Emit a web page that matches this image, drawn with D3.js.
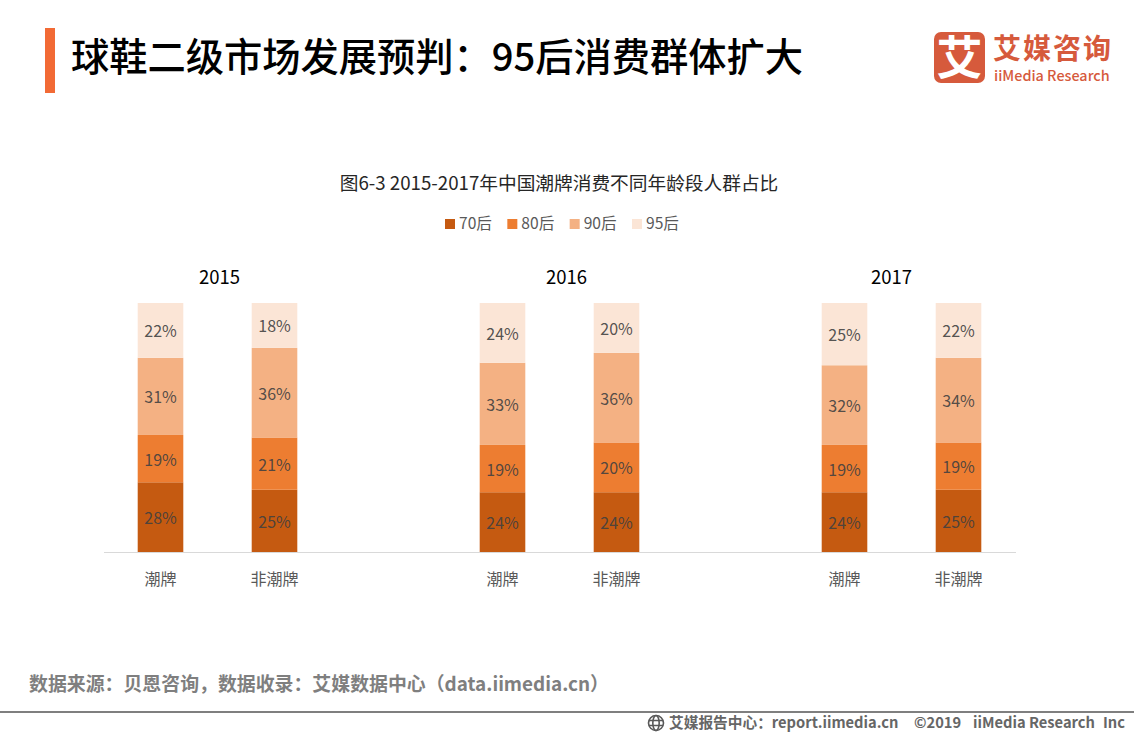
<!DOCTYPE html>
<html>
<head>
<meta charset="utf-8">
<script src="https://cdn.jsdelivr.net/npm/d3@7"></script>
<style>
  html, body { margin: 0; padding: 0; background: #fff; }
  svg { display: block; }
  text { font-family: "Noto Sans CJK SC", "Noto Sans", sans-serif; }
</style>
</head>
<body>
<div id="chart"></div>
<script>
const years = ["2015", "2016", "2017"];
const brands = ["潮牌", "非潮牌"];
const ages = ["70后", "80后", "90后", "95后"];

// share per bar, order: 2015 潮牌, 2015 非潮牌, 2016 潮牌 ...
const age70 = [28, 25, 24, 24, 24, 25];
const age80 = [19, 21, 19, 20, 19, 19];
const age90 = [31, 36, 33, 36, 32, 34];
const age95 = [22, 18, 24, 20, 25, 22];

const colors = ["#c55a11", "#ed7d31", "#f4b183", "#fbe5d6"];

const width = 1134, height = 737;
const svg = d3.select("#chart").append("svg")
  .attr("width", width).attr("height", height);

// header
svg.append("rect").attr("x", 45).attr("y", 28).attr("width", 10).attr("height", 65).attr("fill", "#f26a35");
svg.append("text").attr("x", 71).attr("y", 71)
  .attr("font-size", 38.25).attr("font-weight", 500).attr("fill", "#000")
  .text("球鞋二级市场发展预判：95后消费群体扩大");

// logo
svg.append("rect").attr("x", 934).attr("y", 32).attr("width", 51).attr("height", 51).attr("rx", 7).attr("fill", "#d65a3c");
svg.append("text").attr("x", 959.5).attr("y", 74).attr("text-anchor", "middle")
  .attr("font-size", 46).attr("font-weight", 700).attr("fill", "#fff").text("艾");
svg.append("text").attr("x", 993).attr("y", 59)
  .attr("font-size", 28).attr("letter-spacing", 2).attr("font-weight", 700).attr("fill", "#d65a3c").text("艾媒咨询");
svg.append("text").attr("x", 994).attr("y", 81)
  .attr("font-size", 14.4).attr("font-weight", 500).attr("fill", "#d65a3c").text("iiMedia Research");

// chart title
svg.append("text").attr("x", 559).attr("y", 190).attr("text-anchor", "middle")
  .attr("font-size", 18.7).attr("fill", "#262626")
  .text("图6-3 2015-2017年中国潮牌消费不同年龄段人群占比");

// legend
const legendX = d3.scalePoint().domain(ages).range([445, 632]);
const legend = svg.append("g").selectAll("g").data(ages).join("g")
  .attr("transform", d => `translate(${legendX(d)},219)`);
legend.append("rect").attr("width", 10).attr("height", 10).attr("fill", (d, i) => colors[i]);
legend.append("text").attr("x", 14).attr("y", 10)
  .attr("font-size", 15.6).attr("fill", "#595959").text(d => d);

// bars: 8 equal slots, the third of each year group stays empty
const bars = years.flatMap(y => brands.map(b => ({ year: y, brand: b, key: y + b })));
bars.forEach((b, i) => {
  b["70后"] = age70[i]; b["80后"] = age80[i]; b["90后"] = age90[i]; b["95后"] = age95[i];
});
const slots = years.flatMap((y, i) => {
  const keys = brands.map(b => y + b);
  return i < years.length - 1 ? keys.concat("gap" + y) : keys;
});

const x = d3.scaleBand().domain(slots).range([103.5, 1015.5]).paddingInner(0.6).paddingOuter(0.3);
const yScale = d3.scaleLinear().domain([0, 100]).range([552, 303]);
const stacked = d3.stack().keys(ages)(bars);

const layers = svg.append("g").selectAll("g").data(stacked).join("g")
  .attr("fill", (d, i) => colors[i]);
layers.selectAll("rect").data(d => d).join("rect")
  .attr("x", d => x(d.data.key))
  .attr("width", x.bandwidth())
  .attr("y", d => yScale(d[1]))
  .attr("height", d => yScale(d[0]) - yScale(d[1]));

const labels = svg.append("g").selectAll("g").data(stacked).join("g");
labels.selectAll("text").data(d => d.map(v => ({ v, key: d.key }))).join("text")
  .attr("x", d => x(d.v.data.key) + x.bandwidth() / 2)
  .attr("y", d => yScale((d.v[0] + d.v[1]) / 2) + 7)
  .attr("text-anchor", "middle")
  .attr("font-size", 16)
  .attr("fill", "#404040")
  .attr("fill-opacity", 0.9)
  .text(d => d.v.data[d.key] + "%");

// axis
const axis = d3.axisBottom(x)
  .tickValues(bars.map(b => b.key))
  .tickSize(0).tickPadding(22)
  .tickFormat(k => bars.find(b => b.key === k).brand);
const axisG = svg.append("g").attr("transform", "translate(0,552)").call(axis);
axisG.select(".domain").attr("stroke", "#d9d9d9");
axisG.selectAll("text").attr("font-size", 16).attr("fill", "#595959")
  .attr("font-family", '"Noto Sans CJK SC", sans-serif');

// year headings, not centred over their groups in the source
const yearNudge = [2, 7, -10];
svg.append("g").selectAll("text").data(years).join("text")
  .attr("x", (y, i) => (x(y + brands[0]) + x(y + brands[1]) + x.bandwidth()) / 2 + yearNudge[i])
  .attr("y", 284).attr("text-anchor", "middle")
  .attr("font-size", 18.5).attr("fill", "#000").text(y => y);

// footer
svg.append("text").attr("x", 29).attr("y", 691)
  .attr("font-size", 18.9).attr("font-weight", 700).attr("fill", "#7f7f7f")
  .text("数据来源：贝恩咨询，数据收录：艾媒数据中心（data.iimedia.cn）");
svg.append("rect").attr("x", 0).attr("y", 711).attr("width", width).attr("height", 2).attr("fill", "#7f7f7f");

const globe = svg.append("g").attr("transform", "translate(656,723)")
  .attr("fill", "none").attr("stroke", "#595959").attr("stroke-width", 1.6);
globe.append("circle").attr("r", 7.5);
globe.append("ellipse").attr("rx", 3.2).attr("ry", 7.5);
globe.append("path").attr("d", "M-7,-2.5H7M-7,2.5H7");

svg.append("text").attr("x", 669).attr("y", 728)
  .attr("font-size", 14.7).attr("font-weight", 700).attr("fill", "#666")
  .text("艾媒报告中心：report.iimedia.cn");
svg.append("text").attr("x", 914).attr("y", 728)
  .attr("font-size", 14.7).attr("font-weight", 700).attr("fill", "#666")
  .text("©2019");
svg.append("text").attr("x", 973).attr("y", 728)
  .attr("font-size", 14.7).attr("font-weight", 700).attr("fill", "#666")
  .text("iiMedia Research");
svg.append("text").attr("x", 1103).attr("y", 728)
  .attr("font-size", 14.7).attr("font-weight", 700).attr("fill", "#666")
  .text("Inc");
</script>
</body>
</html>
